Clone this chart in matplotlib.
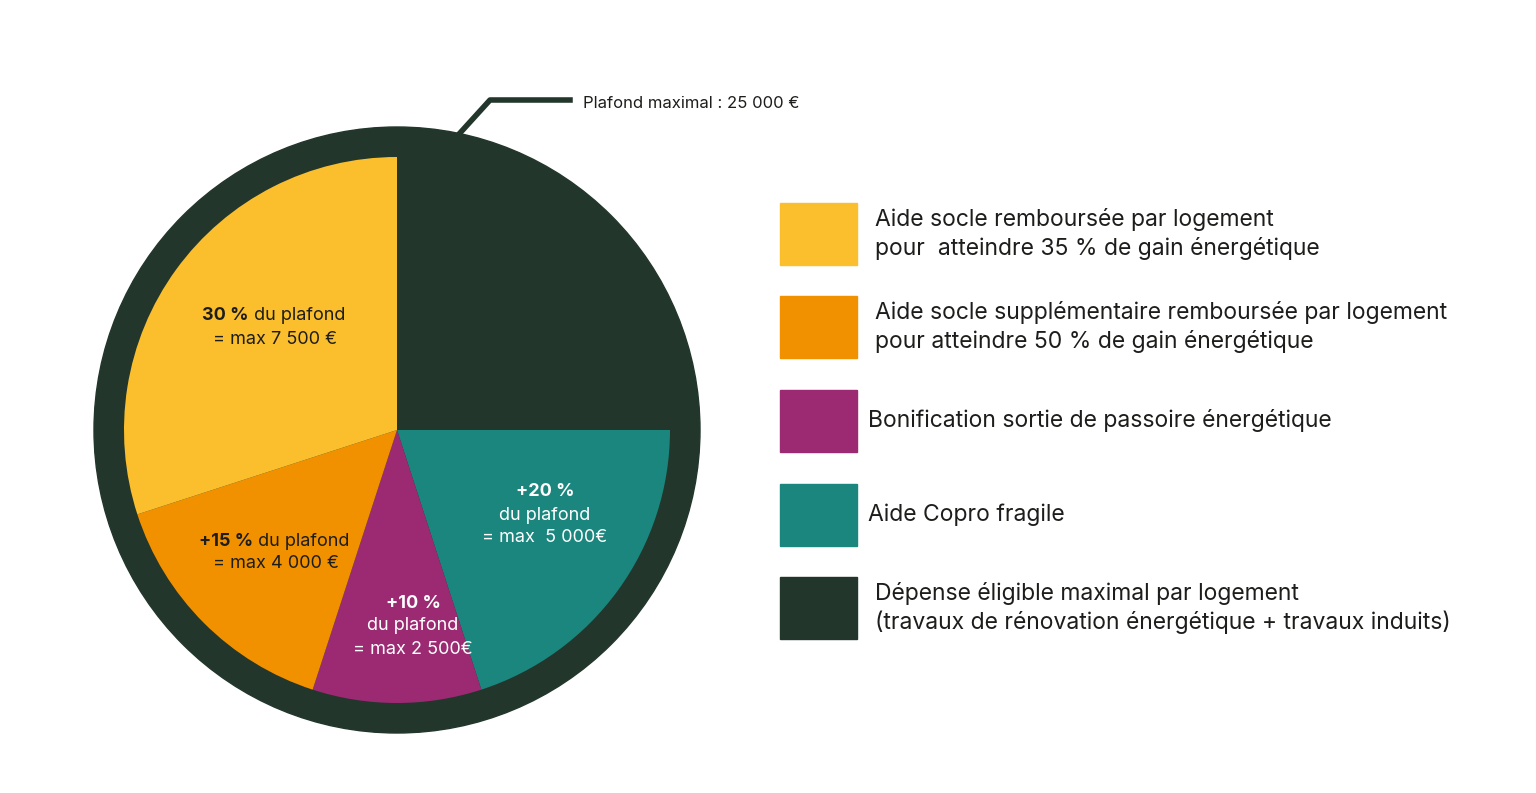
import matplotlib.pyplot as plt
from matplotlib.patches import Circle, Rectangle

plt.rcParams['font.family'] = ['Inter', 'DejaVu Sans']

# slices clockwise from top
values = [25, 20, 10, 15, 30]
colors = ["#23362B", "#1A867E", "#9B2A73", "#F29100", "#FBBF2E"]

legend_labels = [
    "Aide socle remboursée par logement\npour  atteindre 35 % de gain énergétique",
    "Aide socle supplémentaire remboursée par logement\npour atteindre 50 % de gain énergétique",
    "Bonification sortie de passoire énergétique",
    "Aide Copro fragile",
    "Dépense éligible maximal par logement\n(travaux de rénovation énergétique + travaux induits)",
]
legend_colors = ["#FBBF2E", "#F29100", "#9B2A73", "#1A867E", "#23362B"]
legend_text_x = [875, 875, 868, 868, 875]

W, H = 1536, 793
fig = plt.figure(figsize=(W / 100, H / 100), dpi=100)
ax = fig.add_axes([0, 0, 1, 1])
ax.set_xlim(0, W)
ax.set_ylim(0, H)
ax.set_aspect('equal')
ax.axis('off')

cx, cy = 397, H - 430
ax.add_patch(Circle((cx, cy), 303, color="#23362B", zorder=1))
wedges, _ = ax.pie(values, colors=colors, startangle=90, counterclock=False,
                   radius=273, center=(cx, cy), frame=True,
                   wedgeprops=dict(linewidth=0, zorder=2))
ax.set_xlim(0, W)
ax.set_ylim(0, H)
ax.axis('off')

fs = 13
white = "white"
dark = "#1d1d1b"
# yellow
ax.text(249, H - 316, "30 %", ha='right', va='center', fontsize=fs, weight='bold', color=dark, zorder=3)
ax.text(249, H - 316, " du plafond", ha='left', va='center', fontsize=fs, color=dark, zorder=3)
ax.text(275, H - 339, "= max 7 500 €", ha='center', va='center', fontsize=fs, color=dark, zorder=3)
# orange
ax.text(253, H - 541, "+15 %", ha='right', va='center', fontsize=fs, weight='bold', color=dark, zorder=3)
ax.text(253, H - 541, " du plafond", ha='left', va='center', fontsize=fs, color=dark, zorder=3)
ax.text(276, H - 564, "= max 4 000 €", ha='center', va='center', fontsize=fs, color=dark, zorder=3)
# teal
ax.text(545, H - 492, "+20 %", ha='center', va='center', fontsize=fs, weight='bold', color=white, zorder=3)
ax.text(545, H - 515, "du plafond", ha='center', va='center', fontsize=fs, color=white, zorder=3)
ax.text(545, H - 538, "= max  5 000€", ha='center', va='center', fontsize=fs, color=white, zorder=3)
# purple
ax.text(413, H - 603, "+10 %", ha='center', va='center', fontsize=fs, weight='bold', color=white, zorder=3)
ax.text(413, H - 626, "du plafond", ha='center', va='center', fontsize=fs, color=white, zorder=3)
ax.text(413, H - 649, "= max 2 500€", ha='center', va='center', fontsize=fs, color=white, zorder=3)

# callout
ax.plot([460, 490, 570], [H - 133, H - 100, H - 100], color="#23362B", lw=4, zorder=3)
ax.text(583, H - 103, "Plafond maximal : 25 000 €", ha='left', va='center', fontsize=12, color=dark)

# legend
tops = [203, 296, 390, 484, 577]
for top, c, lab, tx in zip(tops, legend_colors, legend_labels, legend_text_x):
    ax.add_patch(Rectangle((780, H - top - 62), 77, 62, color=c))
    ax.text(tx, H - top - 31, lab, ha='left', va='center', fontsize=16.5,
            color=dark, linespacing=1.35)

fig.savefig("out.png", dpi=100)
